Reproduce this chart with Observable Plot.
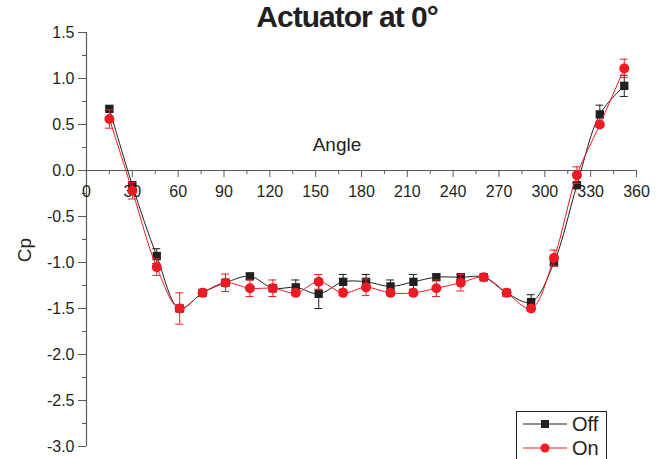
<!DOCTYPE html>
<html><head><meta charset="utf-8">
<script src="https://cdn.jsdelivr.net/npm/d3@7"></script>
<script src="https://cdn.jsdelivr.net/npm/@observablehq/plot@0.6"></script>
<style>
body{margin:0;background:#fff;}
#wrap{position:relative;width:667px;height:459px;overflow:hidden;font-family:"Liberation Sans",Arial,sans-serif;color:#231f20;}
#title{position:absolute;left:347px;top:0px;transform:translateX(-50%);white-space:nowrap;font-weight:bold;font-size:30px;line-height:34px;letter-spacing:-1px;}
#wrap svg{position:absolute;left:0;top:0;}
</style></head>
<body><div id="wrap"><div id="title">Actuator at 0°</div></div>
<script>
// ---- data ----
const angles = [15, 30, 46, 61, 76, 91, 107, 122, 137, 152, 168, 183, 199, 214, 229, 245, 260, 275, 291, 306, 321, 336, 352];
const offCp  = [0.67, -0.16, -0.93, -1.50, -1.33, -1.22, -1.15, -1.28, -1.27, -1.34, -1.21, -1.21, -1.26, -1.21, -1.16, -1.16, -1.16, -1.33, -1.43, -1.00, -0.16, 0.61, 0.92];
const offErr = [0.02, 0.03, 0.08, 0.03, 0.02, 0.03, 0.03, 0.03, 0.08, 0.16, 0.08, 0.08, 0.07, 0.08, 0.03, 0.03, 0.02, 0.02, 0.08, 0.03, 0.03, 0.10, 0.115];
const onCp   = [0.56, -0.22, -1.05, -1.50, -1.33, -1.22, -1.28, -1.28, -1.33, -1.21, -1.33, -1.27, -1.33, -1.33, -1.28, -1.22, -1.16, -1.33, -1.50, -0.95, -0.05, 0.50, 1.11];
const onErr  = [0.10, 0.09, 0.09, 0.17, 0.02, 0.095, 0.09, 0.09, 0.03, 0.08, 0.03, 0.09, 0.03, 0.03, 0.09, 0.09, 0.02, 0.02, 0.03, 0.085, 0.09, 0.03, 0.10];
const seriesNames = ["Off", "On"];
const xTicks = [0, 30, 60, 90, 120, 150, 180, 210, 240, 270, 300, 330, 360];
const xMinorTicks = [15, 45, 75, 105, 135, 165, 195, 225, 255, 285, 315, 345];
const yTicks = [-3.0, -2.5, -2.0, -1.5, -1.0, -0.5, 0.0, 0.5, 1.0, 1.5];
const yMinorTicks = [-2.75, -2.25, -1.75, -1.25, -0.75, -0.25, 0.25, 0.75, 1.25];

const colors = {Off: "#231f20", On: "#ed1c24"};
const symbols = {Off: "square", On: "circle"};
const radius = {Off: 4.7, On: 5};

const toRows = (name, vals, errs) => angles.map((a, i) => ({series: name, angle: a, cp: vals[i], err: errs[i]}));
const rows = {Off: toRows("Off", offCp, offErr), On: toRows("On", onCp, onErr)};

const axisColor = "#58595b";
const cap = 2.6; // half cap width in degrees

function seriesMarks(name) {
  const d = rows[name], c = colors[name];
  return [
    Plot.line(d, {x: "angle", y: "cp", stroke: c, strokeWidth: 1, curve: "catmull-rom"}),
    Plot.ruleX(d, {x: "angle", y1: r => r.cp - r.err, y2: r => r.cp + r.err, stroke: c, strokeWidth: 1}),
    Plot.ruleY(d, {y: r => r.cp - r.err, x1: r => r.angle - cap, x2: r => r.angle + cap, stroke: c, strokeWidth: 1}),
    Plot.ruleY(d, {y: r => r.cp + r.err, x1: r => r.angle - cap, x2: r => r.angle + cap, stroke: c, strokeWidth: 1}),
    Plot.dot(d, {x: "angle", y: "cp", fill: c, stroke: "none", symbol: symbols[name], r: radius[name]})
  ];
}

const chart = Plot.plot({
  width: 667, height: 459,
  marginLeft: 86, marginRight: 31, marginTop: 32, marginBottom: 13,
  x: {domain: [0, 360]},
  y: {domain: [-3, 1.5]},
  style: {fontFamily: "'Liberation Sans', Arial, sans-serif", fontSize: "16px", color: "#231f20", background: "transparent", overflow: "visible"},
  marks: [
    Plot.ruleX([0], {y1: -3, y2: 1.5, stroke: axisColor, strokeWidth: 1.2}),
    Plot.ruleY([0], {x1: 0, x2: 360, stroke: axisColor, strokeWidth: 1.2}),
    Plot.axisY({ticks: yTicks, tickSize: 8, tickPadding: 4, tickFormat: v => v.toFixed(1), label: null, stroke: axisColor, fontSize: 16}),
    Plot.axisY({ticks: yMinorTicks, tickSize: 4, text: null, label: null, stroke: axisColor}),
    Plot.axisX({ticks: xTicks, anchor: "bottom", dy: -276, tickSize: 7, tickPadding: 8, tickFormat: v => String(v), label: null, stroke: axisColor, fontSize: 16}),
    Plot.axisX({ticks: xMinorTicks, anchor: "bottom", dy: -276, tickSize: 4, text: null, label: null, stroke: axisColor}),
    ...seriesMarks("Off"),
    ...seriesMarks("On")
  ]
});
const wrap = document.getElementById("wrap");
wrap.appendChild(chart);

// axis titles and legend overlay
const ov = d3.create("svg").attr("width", 667).attr("height", 459)
  .attr("font-family", "'Liberation Sans', Arial, sans-serif").attr("fill", "#231f20");
ov.append("text").attr("x", 337).attr("y", 151).attr("text-anchor", "middle").attr("font-size", 19).text("Angle");
ov.append("text").attr("transform", "translate(31,250) rotate(-90)").attr("text-anchor", "middle").attr("font-size", 19).text("Cp");
const lg = ov.append("g");
lg.append("rect").attr("x", 516.5).attr("y", 411.5).attr("width", 90).attr("height", 60).attr("fill", "white").attr("stroke", "#231f20").attr("stroke-width", 1);
seriesNames.forEach((name, i) => {
  const y = 424 + i * 24;
  const g = lg.append("g");
  g.append("line").attr("x1", 523).attr("x2", 567).attr("y1", y).attr("y2", y).attr("stroke", colors[name]).attr("stroke-width", 1);
  if (symbols[name] === "square") g.append("rect").attr("x", 541).attr("y", y - 4).attr("width", 8).attr("height", 8).attr("fill", colors[name]);
  else g.append("circle").attr("cx", 545).attr("cy", y).attr("r", 4.5).attr("fill", colors[name]);
  g.append("text").attr("x", 572).attr("y", y + 7).attr("font-size", 20).text(name);
});
wrap.appendChild(ov.node());
</script>
</body></html>
